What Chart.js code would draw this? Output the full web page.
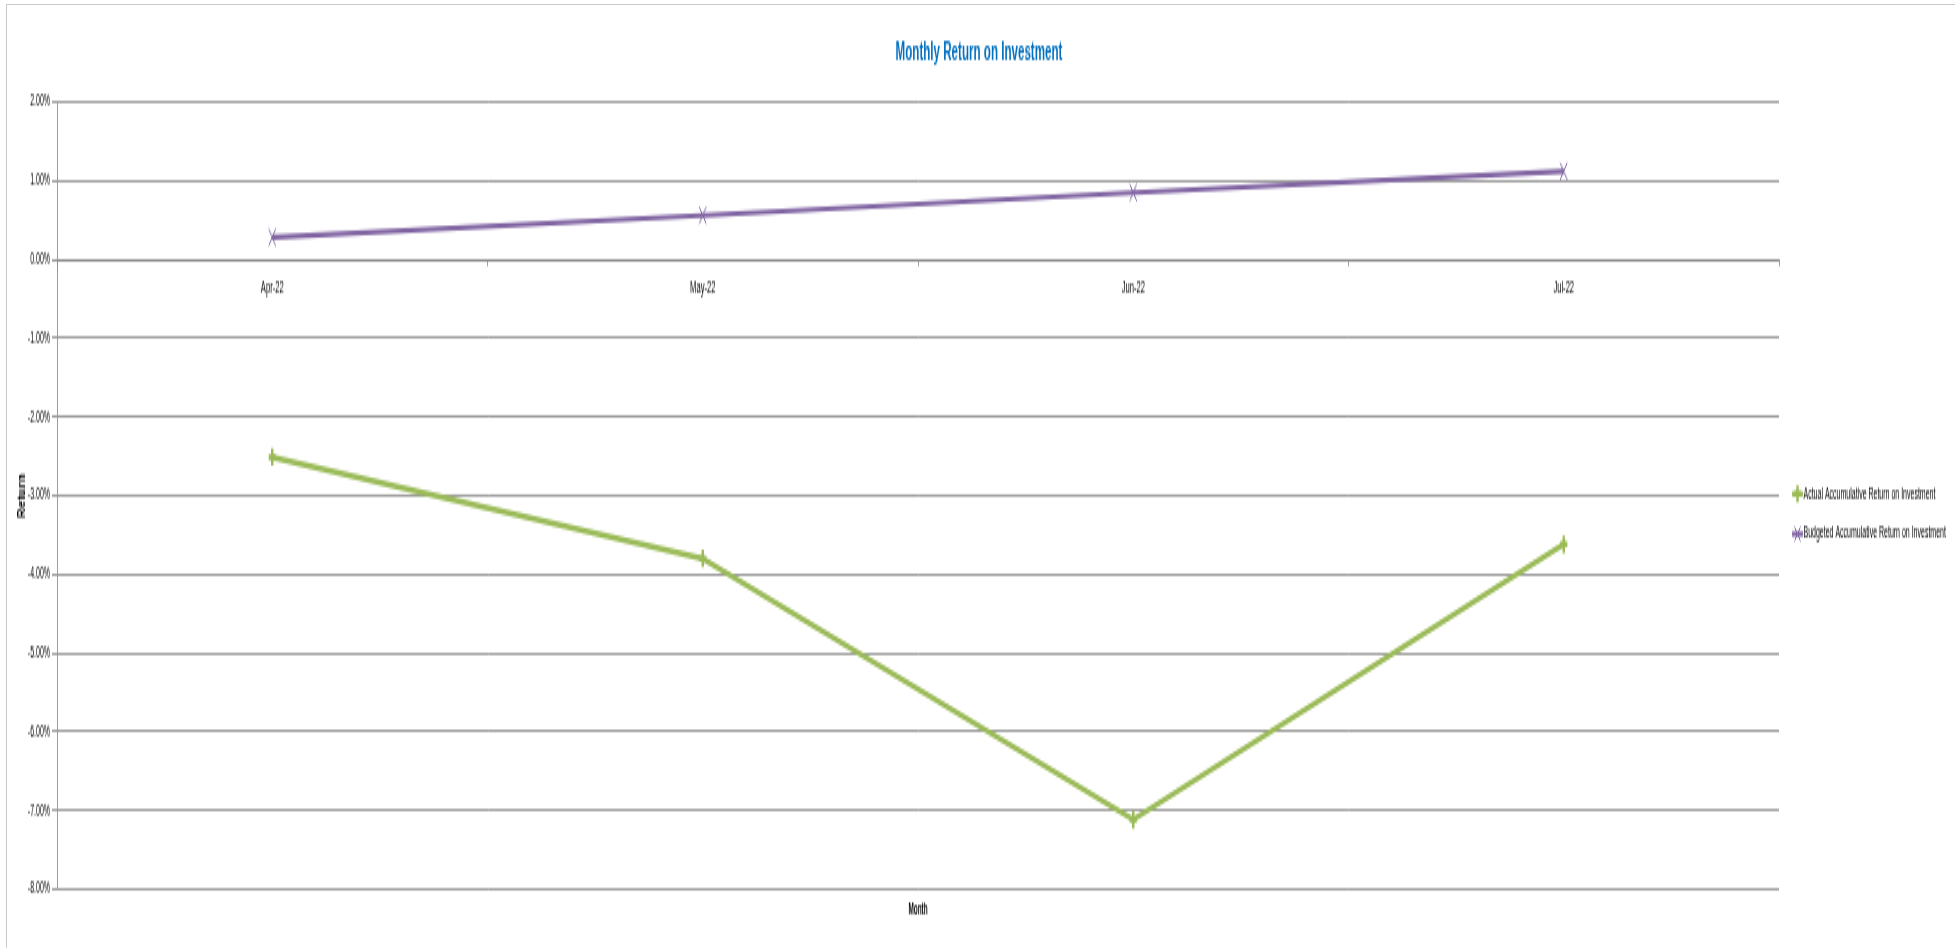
<!DOCTYPE html>
<html>
<head>
<meta charset="utf-8">
<title>Monthly Return on Investment</title>
<script src="https://cdn.jsdelivr.net/npm/chart.js@4.4.0/dist/chart.umd.min.js"></script>
<style>
  html, body { margin: 0; padding: 0; background: #ffffff; overflow: hidden; }
  /* the chart is drawn at reduced height and stretched vertically */
  #stage { position: absolute; left: 0; top: 0; width: 1955px; height: 395px;
           transform: scaleY(2.4); transform-origin: 0 0; }
  #frame { position: absolute; left: 6px; top: 4px; width: 1960px; height: 960px;
           border-left: 1px solid #c8c8c8; border-top: 1px solid #c8c8c8; }
  canvas { display: block; }
</style>
</head>
<body>
<div id="stage"><canvas id="roi" width="1955" height="395"></canvas></div>
<div id="frame"></div>
<script>
// ---- data (percent) ----
const months = ['Apr-22', 'May-22', 'Jun-22', 'Jul-22'];
const actualReturn = [-2.51, -3.80, -7.12, -3.62];
const budgetedReturn = [0.28, 0.56, 0.85, 1.12];
const seriesNames = ['Actual Accumulative Return on Investment', 'Budgeted Accumulative Return on Investment'];
const yMin = -8, yMax = 2, yStep = 1;
const chartTitle = 'Monthly Return on Investment';
const xTitle = 'Month';
const yTitle = 'Return';

const FONT = '"Liberation Sans Narrow", "Liberation Sans", Arial, sans-serif';
const GREEN = '#9BBB59';
const PURPLE = '#8064A2';
const GRID = '#8a8a8a';

// titles and legend drawn onto the canvas after the chart
const decorations = {
  id: 'decorations',
  afterDraw(chart) {
    const { ctx, chartArea } = chart;
    ctx.save();
    ctx.textBaseline = 'middle';

    ctx.fillStyle = '#0070C0';
    ctx.font = 'bold 11.6px ' + FONT;
    ctx.textAlign = 'center';
    ctx.fillText(chartTitle, 979, 21.3);

    ctx.fillStyle = '#000000';
    ctx.font = 'bold 6.4px ' + FONT;
    ctx.fillText(xTitle, (chartArea.left + chartArea.right) / 2, 378.8);

    // rotated axis title, squeezed along its length
    ctx.save();
    ctx.translate(22, 206.7);
    ctx.rotate(-Math.PI / 2);
    ctx.font = 'bold 10.5px "Liberation Sans", Arial, sans-serif';
    const w = ctx.measureText(yTitle).width;
    ctx.scale(18.5 / w, 1);
    ctx.fillText(yTitle, 0, 0);
    ctx.restore();

    // legend
    const lx = 1792, rowY = [205.8, 222.5];
    chart.data.datasets.forEach((ds, i) => {
      const y = rowY[i];
      ctx.strokeStyle = ds.borderColor;
      ctx.lineWidth = 2.1;
      ctx.beginPath(); ctx.moveTo(lx, y); ctx.lineTo(lx + 11, y); ctx.stroke();
      const cx = lx + 5.5;
      ctx.lineWidth = ds.pointBorderWidth;
      ctx.beginPath();
      if (ds.pointStyle === 'cross') {
        ctx.moveTo(cx, y - 3.5); ctx.lineTo(cx, y + 3.5);
        ctx.moveTo(cx - 3.5, y); ctx.lineTo(cx + 3.5, y);
      } else {
        ctx.moveTo(cx - 3, y - 3); ctx.lineTo(cx + 3, y + 3);
        ctx.moveTo(cx - 3, y + 3); ctx.lineTo(cx + 3, y - 3);
      }
      ctx.stroke();
      ctx.fillStyle = '#000000';
      ctx.font = '7px ' + FONT;
      ctx.textAlign = 'left';
      ctx.fillText(ds.label, lx + 11.5, y);
    });
    ctx.restore();
  }
};

new Chart(document.getElementById('roi'), {
  type: 'line',
  data: {
    labels: months,
    datasets: [
      {
        label: seriesNames[0],
        data: actualReturn,
        borderColor: GREEN,
        backgroundColor: GREEN,
        borderWidth: 2.5,
        pointStyle: 'cross',
        pointRadius: 3.6,
        pointBorderWidth: 2.5,
        pointBorderColor: GREEN,
        tension: 0
      },
      {
        label: seriesNames[1],
        data: budgetedReturn,
        borderColor: PURPLE,
        backgroundColor: PURPLE,
        borderWidth: 2.1,
        pointStyle: 'crossRot',
        pointRadius: 5,
        pointBorderWidth: 1,
        pointBorderColor: PURPLE,
        tension: 0
      }
    ]
  },
  options: {
    responsive: false,
    devicePixelRatio: 1,
    animation: false,
    layout: { padding: { left: 0, right: 176, top: 42.5, bottom: 24.6 } },
    plugins: {
      legend: { display: false },
      title: { display: false },
      tooltip: { enabled: false }
    },
    scales: {
      x: {
        type: 'category',
        position: { y: 0 },
        offset: true,
        grid: { display: true, drawOnChartArea: false, drawTicks: true, tickLength: 2, color: GRID, lineWidth: 0.85, offset: true },
        border: { display: true, color: GRID, width: 0.85 },
        ticks: { color: '#000000', font: { family: FONT, size: 7.6 }, padding: 5.5, maxRotation: 0 }
      },
      y: {
        min: yMin,
        max: yMax,
        afterFit(scale) { scale.width = 57; },
        grid: { color: GRID, lineWidth: 0.85, tickLength: 5 },
        border: { display: true, color: GRID, width: 0.85 },
        ticks: {
          stepSize: yStep,
          padding: 2,
          color: '#000000',
          font: { family: FONT, size: 7 },
          callback: v => v.toFixed(2) + '%'
        }
      }
    }
  },
  plugins: [decorations]
});
</script>
</body>
</html>
